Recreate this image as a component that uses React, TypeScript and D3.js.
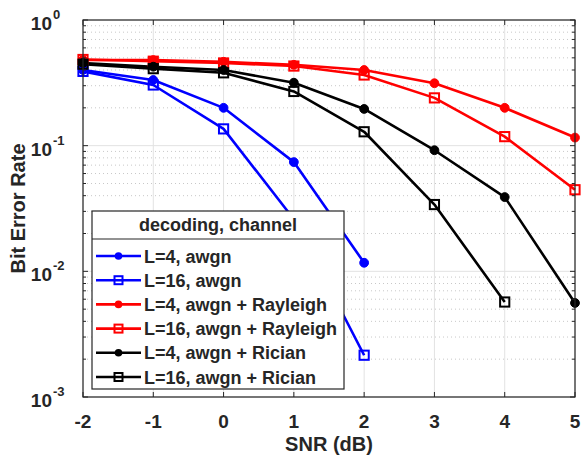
import React from "react";
import * as d3 from "d3";

const snr = [-2, -1, 0, 1, 2, 3, 4, 5];
const xTicks = [-2, -1, 0, 1, 2, 3, 4, 5];
const yDecades = [0, -1, -2, -3];

const awgnL4 = [0.4, 0.333, 0.2, 0.074, 0.0117];
const awgnL16 = [0.39, 0.304, 0.136, 0.026, 0.00215];
const rayL4 = [0.48, 0.48, 0.465, 0.44, 0.4, 0.314, 0.2, 0.116];
const rayL16 = [0.485, 0.47, 0.455, 0.43, 0.365, 0.24, 0.118, 0.0446];
const ricL4 = [0.455, 0.425, 0.4, 0.317, 0.196, 0.092, 0.039, 0.0056];
const ricL16 = [0.445, 0.41, 0.38, 0.27, 0.129, 0.034, 0.0057];

const seriesNames = [
  "L=4, awgn",
  "L=16, awgn",
  "L=4, awgn + Rayleigh",
  "L=16, awgn + Rayleigh",
  "L=4, awgn + Rician",
  "L=16, awgn + Rician",
];
const seriesValues = [awgnL4, awgnL16, rayL4, rayL16, ricL4, ricL16];
const seriesColors = ["#0000ff", "#0000ff", "#ff0000", "#ff0000", "#000000", "#000000"];
const seriesMarkers = ["circle", "square", "circle", "square", "circle", "square"];

const W = 582;
const H = 461;
const L = 83, R = 575, T = 20, B = 397;
const FONT = "'Liberation Sans', Arial, Helvetica, sans-serif";
const TXT = "#262626";

export default function App() {
  const x = d3.scaleLinear().domain([-2, 5]).range([L, R]);
  const y = d3.scaleLog().domain([1e-3, 1]).range([B, T]);
  const line = d3
    .line<number>()
    .x((_, i) => x(snr[i]))
    .y((d) => y(d));

  const minor: number[] = [];
  for (const e of [-3, -2, -1]) for (let k = 2; k <= 9; k++) minor.push(k * Math.pow(10, e));

  const marker = (kind: string, cx: number, cy: number, color: string, key: string) =>
    kind === "circle" ? (
      <circle key={key} cx={cx} cy={cy} r={4.4} fill={color} stroke={color} strokeWidth={1} />
    ) : (
      <rect key={key} x={cx - 4.6} y={cy - 4.6} width={9.2} height={9.2} fill="none" stroke={color} strokeWidth={2} />
    );

  const legX = 92, legY = 211, legW = 252, legH = 178;
  const rowY0 = 256, rowDy = 24.2;

  return (
    <svg width={W} height={H} style={{ position: "absolute", left: 0, top: 0, background: "#fff" }} fontFamily={FONT}>
      <rect x={0} y={0} width={W} height={H} fill="#fff" />
      {/* minor grid */}
      {minor.map((v, i) => (
        <line key={"mg" + i} x1={L} x2={R} y1={y(v)} y2={y(v)} stroke="#c8c8c8" strokeWidth={1} strokeDasharray="1,3" />
      ))}
      {/* major grid */}
      {xTicks.map((t) => (
        <line key={"gx" + t} x1={x(t)} x2={x(t)} y1={T} y2={B} stroke="#e2e2e2" strokeWidth={1} />
      ))}
      {yDecades.map((e) => (
        <line key={"gy" + e} x1={L} x2={R} y1={y(Math.pow(10, e))} y2={y(Math.pow(10, e))} stroke="#e2e2e2" strokeWidth={1} />
      ))}
      {/* series lines */}
      {seriesValues.map((vals, si) => (
        <path key={"s" + si} d={line(vals) || ""} fill="none" stroke={seriesColors[si]} strokeWidth={2.6} strokeLinejoin="round" />
      ))}
      {seriesValues.map((vals, si) =>
        vals.map((v, i) => marker(seriesMarkers[si], x(snr[i]), y(v), seriesColors[si], `m${si}-${i}`))
      )}
      {/* axes box */}
      <rect x={L} y={T} width={R - L} height={B - T} fill="none" stroke={TXT} strokeWidth={1.2} />
      {xTicks.map((t) => (
        <g key={"tx" + t}>
          <line x1={x(t)} x2={x(t)} y1={B} y2={B - 5} stroke={TXT} />
          <line x1={x(t)} x2={x(t)} y1={T} y2={T + 5} stroke={TXT} />
          <text x={x(t)} y={428} textAnchor="middle" fontSize={19} fontWeight="bold" fill={TXT}>
            {t}
          </text>
        </g>
      ))}
      {yDecades.map((e) => {
        const yy = y(Math.pow(10, e));
        return (
          <g key={"ty" + e}>
            <line x1={L} x2={L + 5} y1={yy} y2={yy} stroke={TXT} />
            <line x1={R} x2={R - 5} y1={yy} y2={yy} stroke={TXT} />
            <text x={52} y={yy + 10} textAnchor="end" fontSize={19} fontWeight="bold" fill={TXT}>
              10
            </text>
            <text x={53} y={yy - 1} textAnchor="start" fontSize={13} fontWeight="bold" fill={TXT}>
              {e}
            </text>
          </g>
        );
      })}
      {minor.map((v, i) => (
        <g key={"mt" + i}>
          <line x1={L} x2={L + 3} y1={y(v)} y2={y(v)} stroke={TXT} />
          <line x1={R} x2={R - 3} y1={y(v)} y2={y(v)} stroke={TXT} />
        </g>
      ))}
      {/* axis labels */}
      <text x={(L + R) / 2} y={451} textAnchor="middle" fontSize={20} fontWeight="bold" fill={TXT}>
        SNR (dB)
      </text>
      <text
        transform={`translate(25, ${(T + B) / 2}) rotate(-90)`}
        textAnchor="middle"
        fontSize={20}
        fontWeight="bold"
        fill={TXT}
      >
        Bit Error Rate
      </text>
      {/* legend */}
      <rect x={legX} y={legY} width={legW} height={legH} fill="#fff" stroke={TXT} strokeWidth={1.2} />
      <line x1={legX} x2={legX + legW} y1={239} y2={239} stroke={TXT} strokeWidth={1.2} />
      <text x={legX + legW / 2} y={231} textAnchor="middle" fontSize={18} fontWeight="bold" fill={TXT}>
        decoding, channel
      </text>
      {seriesNames.map((name, i) => {
        const ry = rowY0 + i * rowDy;
        return (
          <g key={"lg" + i}>
            <line x1={96} x2={141} y1={ry} y2={ry} stroke={seriesColors[i]} strokeWidth={2.6} />
            {seriesMarkers[i] === "circle" ? (
              <circle cx={118.5} cy={ry} r={3.8} fill={seriesColors[i]} />
            ) : (
              <rect x={114.5} y={ry - 4} width={8} height={8} fill="none" stroke={seriesColors[i]} strokeWidth={2} />
            )}
            <text x={144} y={ry + 6.5} fontSize={18} fontWeight="bold" fill={TXT}>
              {name}
            </text>
          </g>
        );
      })}
    </svg>
  );
}
